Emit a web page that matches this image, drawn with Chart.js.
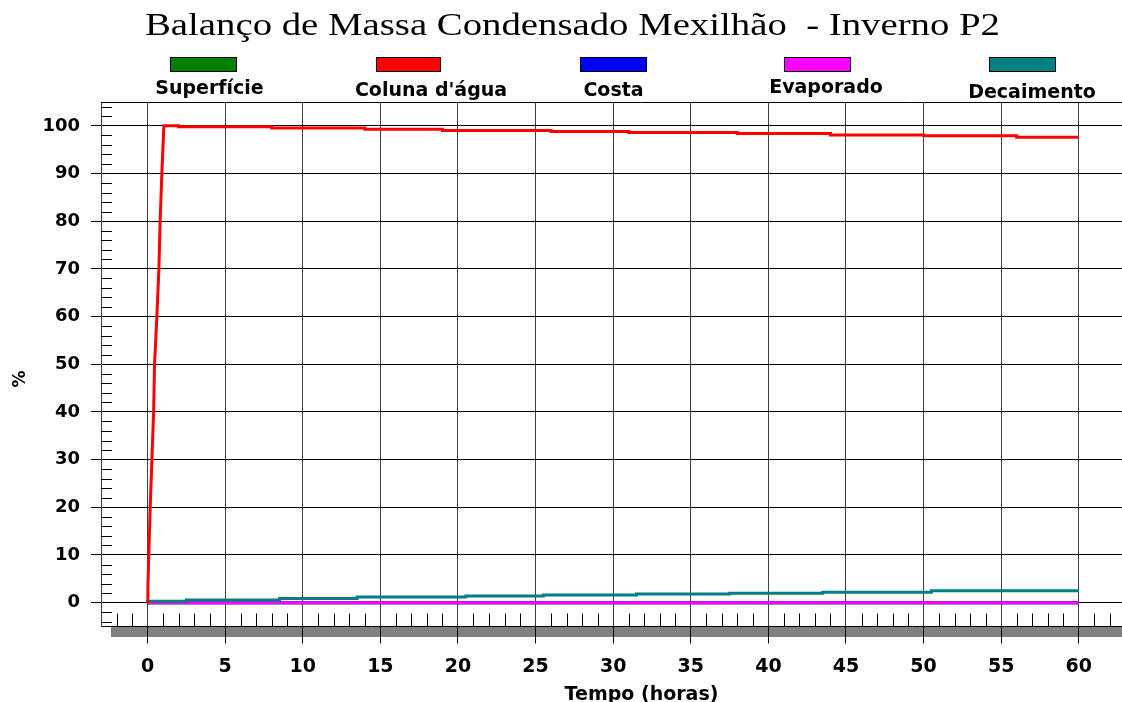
<!DOCTYPE html>
<html>
<head>
<meta charset="utf-8">
<script src="https://cdn.jsdelivr.net/npm/chart.js@4.4.1/dist/chart.umd.min.js"></script>
<style>
html,body{margin:0;padding:0;background:#fff;overflow:hidden;width:1122px;height:702px;}
#wrap{position:relative;width:1182px;height:702px;}
canvas{display:block;}
</style>
</head>
<body>
<div id="wrap"><canvas id="c" width="1182" height="702"></canvas></div>
<script>
// ---------- data ----------
const chartTitle = 'Balanço de Massa Condensado Mexilhão  - Inverno P2';
const xAxisTitle = 'Tempo (horas)';
const yAxisTitle = '%';
const seriesNames = ['Superfície', "Coluna d'água", 'Costa', 'Evaporado', 'Decaimento'];
const seriesColors = ['#008000', '#FF0000', '#0000FF', '#FF00FF', '#008080'];
const xTickLabels = [0, 5, 10, 15, 20, 25, 30, 35, 40, 45, 50, 55, 60];
const yTickLabels = [0, 10, 20, 30, 40, 50, 60, 70, 80, 90, 100];

const superficieT = [0, 60];
const superficieV = [0, 0];
const colunaT = [0, 0.02, 0.08, 0.17, 0.28, 0.39, 0.45, 0.6, 0.73, 0.81, 0.92, 1.05, 2, 2, 8, 8, 14, 14, 19, 19, 26, 26, 31, 31, 38, 38, 44, 44, 50, 50, 56, 56, 60];
const colunaV = [0, 3, 10, 20, 30, 40, 50, 60, 70, 80, 90, 100, 100, 99.8, 99.8, 99.55, 99.55, 99.3, 99.3, 99.0, 99.0, 98.8, 98.8, 98.6, 98.6, 98.4, 98.4, 98.1, 98.1, 97.9, 97.9, 97.6, 97.6];
const costaT = [0, 60];
const costaV = [0, 0];
const evaporadoT = [0, 60];
const evaporadoV = [0, 0];
const decaimentoT = [0, 2.5, 8.5, 13.5, 20.5, 25.5, 31.5, 37.5, 43.5, 50.5, 55.5, 60];
const decaimentoV = [0, 0.3, 0.55, 0.85, 1.2, 1.4, 1.6, 1.8, 1.95, 2.2, 2.5, 2.5];

const seriesT = [superficieT, colunaT, costaT, evaporadoT, decaimentoT];
const seriesV = [superficieV, colunaV, costaV, evaporadoV, decaimentoV];
const seriesStepped = ['after', false, 'after', 'after', 'after'];
const drawOrder = [4, 0, 3, 2, 1]; // lower = on top

// ---------- build ----------
const FONT = '"DejaVu Sans", sans-serif';
Chart.defaults.font.family = FONT;
Chart.defaults.color = '#000';

const datasets = seriesNames.map((name, i) => ({
  label: name,
  data: seriesT[i].map((t, k) => ({x: t, y: seriesV[i][k]})),
  borderColor: seriesColors[i],
  backgroundColor: seriesColors[i],
  borderWidth: 3,
  pointRadius: 0,
  stepped: seriesStepped[i],
  tension: 0,
  fill: false,
  order: drawOrder[i]
}));

const legendLayout = [
  {box: [170, 237], cx: 209.5, base: 94},
  {box: [376, 441], cx: 431, base: 96},
  {box: [580, 647], cx: 613.5, base: 96},
  {box: [784, 851], cx: 826, base: 93},
  {box: [989, 1056], cx: 1032, base: 98}
];

const decor = {
  id: 'decor',
  beforeDraw(chart) {
    const {ctx, chartArea} = chart;
    ctx.save();
    ctx.fillStyle = '#fff';
    ctx.fillRect(0, 0, chart.width, chart.height);
    ctx.fillStyle = '#808080';
    ctx.fillRect(111, Math.round(chartArea.bottom), chart.width - 111, 10);
    ctx.restore();
  },
  beforeDatasetsDraw(chart) {
    const {ctx, chartArea, scales} = chart;
    const xs = scales.x, ys = scales.y;
    ctx.save();
    ctx.lineWidth = 1;
    ctx.strokeStyle = '#000';
    ctx.beginPath();
    const ty = Math.round(chartArea.top) + 0.5;
    ctx.moveTo(chartArea.left, ty); ctx.lineTo(chartArea.right, ty);
    for (let v = -4; v <= 104; v += 2) {
      if (v % 10 === 0) continue;
      const py = Math.round(ys.getPixelForValue(v)) + 0.5;
      ctx.moveTo(chartArea.left, py); ctx.lineTo(chartArea.left + 11, py);
    }
    for (let v = -2; v <= 66; v += 1) {
      if (v % 5 === 0) continue;
      const px = Math.round(xs.getPixelForValue(v)) + 0.5;
      ctx.moveTo(px, chartArea.bottom); ctx.lineTo(px, chartArea.bottom - 13);
    }
    ctx.stroke();
    ctx.restore();
  },
  afterDraw(chart) {
    const {ctx} = chart;
    ctx.save();
    ctx.font = '32px "Liberation Serif", "Times New Roman", serif';
    ctx.fillStyle = '#000';
    ctx.textBaseline = 'alphabetic';
    ctx.textAlign = 'left';
    const w = ctx.measureText(chartTitle).width;
    const sx = 855 / w;
    ctx.save();
    ctx.translate(145, 35);
    ctx.scale(sx, 1);
    ctx.fillText(chartTitle, 0, 0);
    ctx.restore();
    ctx.font = 'bold 19px ' + FONT;
    ctx.textAlign = 'center';
    seriesNames.forEach((name, i) => {
      const L = legendLayout[i];
      ctx.fillStyle = seriesColors[i];
      ctx.fillRect(L.box[0], 57, L.box[1] - L.box[0], 15);
      ctx.strokeStyle = '#000';
      ctx.lineWidth = 1;
      ctx.strokeRect(L.box[0] + 0.5, 57.5, L.box[1] - L.box[0] - 1, 14);
      ctx.fillStyle = '#000';
      ctx.fillText(name, L.cx, L.base);
    });
    ctx.font = 'bold 17px ' + FONT;
    ctx.translate(21, 379);
    ctx.rotate(-Math.PI / 2);
    ctx.textBaseline = 'middle';
    ctx.fillText(yAxisTitle, 0, 0);
    ctx.restore();
  }
};

new Chart(document.getElementById('c'), {
  type: 'line',
  data: {datasets},
  options: {
    responsive: false,
    animation: false,
    devicePixelRatio: 1,
    layout: {padding: {top: 102, left: 0, right: 0, bottom: 0}},
    plugins: {legend: {display: false}, title: {display: false}, tooltip: {enabled: false}},
    scales: {
      x: {
        type: 'linear',
        min: -3,
        max: 66.65,
        afterBuildTicks: (s) => { s.ticks = xTickLabels.map(v => ({value: v})); },
        afterFit: (s) => { s.height = 75.5; },
        grid: {color: '#404040', lineWidth: 1, tickLength: 17, drawTicks: true, tickColor: '#000'},
        border: {display: true, color: '#000', width: 1},
        ticks: {font: {size: 19, weight: 'bold'}, color: '#000', padding: 12, maxRotation: 0, autoSkip: false},
        title: {display: true, text: xAxisTitle, font: {size: 19, weight: 'bold'}, color: '#000', padding: {top: 0, bottom: -4}}
      },
      y: {
        type: 'linear',
        min: -5,
        max: 105,
        afterBuildTicks: (s) => { s.ticks = yTickLabels.map(v => ({value: v})); },
        afterFit: (s) => { s.width = 101; },
        grid: {color: '#000', lineWidth: 1, tickLength: 10, drawTicks: true},
        border: {display: true, color: '#404040', width: 1},
        ticks: {font: {size: 18, weight: 'bold'}, color: '#000', padding: 11, autoSkip: false}
      }
    }
  },
  plugins: [decor]
});
</script>
</body>
</html>
